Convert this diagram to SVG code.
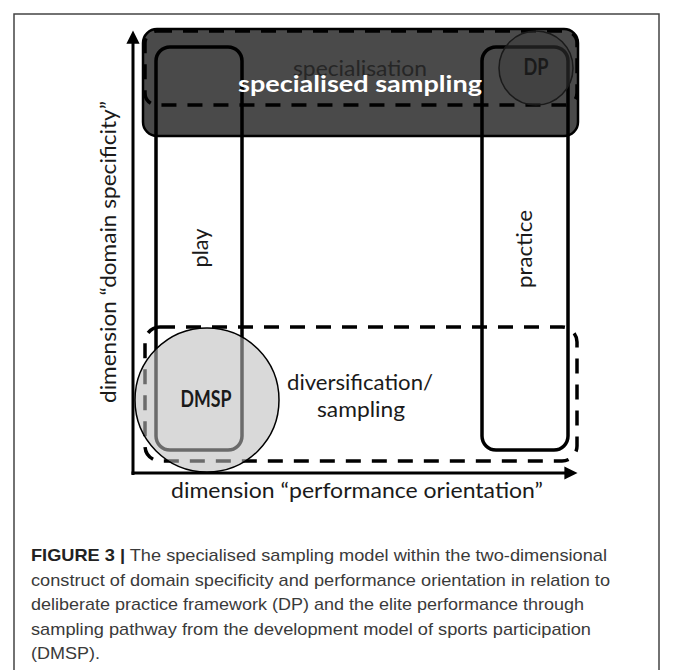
<svg xmlns="http://www.w3.org/2000/svg" width="673" height="670" viewBox="0 0 673 670">
<style>
  .lbl { font-family: Lato, "Open Sans", "DejaVu Sans", sans-serif; font-size: 22px; fill: #1a1a1a; text-anchor: middle; }
  .bold { font-weight: bold; }
  .solid { fill: none; stroke: #000; stroke-width: 3.5; }
  .dash { fill: none; stroke: #000; stroke-width: 3.5; stroke-dasharray: 15 11; }
  .axis { stroke: #000; stroke-width: 3; fill: none; }
  .cap { font-family: "Liberation Sans", Arial, sans-serif; font-size: 17px; fill: #3a3a3a; }
</style>
<defs>
  <marker id="arr" viewBox="0 0 10 10" refX="2" refY="5" markerWidth="4.4" markerHeight="4.4" orient="auto" markerUnits="strokeWidth">
    <path d="M0,0 L10,5 L0,10 Z" fill="#000"/>
  </marker>
</defs>
<rect x="0" y="0" width="673" height="670" fill="#fff"/>
<path d="M14,680 L14,14 L659,14 L659,680" fill="none" stroke="#444" stroke-width="1.5"/>

<g id="specialisation-region">
  <rect x="143" y="29" width="435" height="107" rx="14" fill="#4a4a4a" stroke="#000" stroke-width="2.5"/>
  <rect x="145" y="31" width="432" height="74" rx="12" class="dash"/>
</g>
<g id="play">
  <rect x="156" y="47" width="86" height="403" rx="14" class="solid"/>
  <text class="lbl" transform="translate(208,248) rotate(-90)" font-size="20" textLength="39" lengthAdjust="spacingAndGlyphs">play</text>
</g>
<g id="practice">
  <rect x="482" y="47" width="86" height="403" rx="14" class="solid"/>
  <text class="lbl" transform="translate(532,249) rotate(-90)" font-size="20" textLength="78" lengthAdjust="spacingAndGlyphs">practice</text>
</g>
<g id="diversification">
  <rect x="145" y="327" width="432" height="134" rx="15" class="dash"/>
  <text class="lbl" x="360" y="390" textLength="146" lengthAdjust="spacingAndGlyphs">diversification/</text>
  <text class="lbl" x="361" y="417" textLength="88" lengthAdjust="spacingAndGlyphs">sampling</text>
</g>
<g id="connectors">
  <line x1="133" y1="475" x2="133" y2="41" class="axis" marker-end="url(#arr)"/>
  <line x1="131.5" y1="473" x2="567" y2="473" class="axis" marker-end="url(#arr)"/>
</g>
<g id="DP">
  <circle cx="536" cy="68" r="37" fill="#3a3a3a" fill-opacity="0.5" stroke="#1a1a1a" stroke-width="1.5"/>
  <text class="lbl bold" x="536" y="75" font-size="17" textLength="25" lengthAdjust="spacingAndGlyphs">DP</text>
</g>
<g id="DMSP">
  <circle cx="207" cy="400" r="72" fill="#bcbcbc" fill-opacity="0.57" stroke="#000" stroke-width="1.5"/>
  <text class="lbl bold" x="206" y="407" font-size="17" textLength="51" lengthAdjust="spacingAndGlyphs">DMSP</text>
</g>
<g id="titles">
  <text class="lbl" x="360" y="76" fill="#262626" style="fill:#262626" textLength="134" lengthAdjust="spacingAndGlyphs">specialisation</text>
  <text class="lbl bold" x="360" y="92" font-size="27" style="fill:#fff" textLength="244" lengthAdjust="spacingAndGlyphs">specialised sampling</text>
  <text class="lbl" transform="translate(116,252) rotate(-90)" textLength="302" lengthAdjust="spacingAndGlyphs">dimension “domain specificity”</text>
  <text class="lbl" x="357" y="498" textLength="372" lengthAdjust="spacingAndGlyphs">dimension “performance orientation”</text>
</g>
<g id="caption">
  <text class="cap" x="31" y="561" textLength="576" lengthAdjust="spacingAndGlyphs"><tspan font-weight="bold" fill="#222">FIGURE 3 |</tspan> The specialised sampling model within the two-dimensional</text>
  <text class="cap" x="31" y="585.5" textLength="579" lengthAdjust="spacingAndGlyphs">construct of domain specificity and performance orientation in relation to</text>
  <text class="cap" x="31" y="610" textLength="553" lengthAdjust="spacingAndGlyphs">deliberate practice framework (DP) and the elite performance through</text>
  <text class="cap" x="31" y="634.5" textLength="560" lengthAdjust="spacingAndGlyphs">sampling pathway from the development model of sports participation</text>
  <text class="cap" x="31" y="659" textLength="69" lengthAdjust="spacingAndGlyphs">(DMSP).</text>
</g>
</svg>
